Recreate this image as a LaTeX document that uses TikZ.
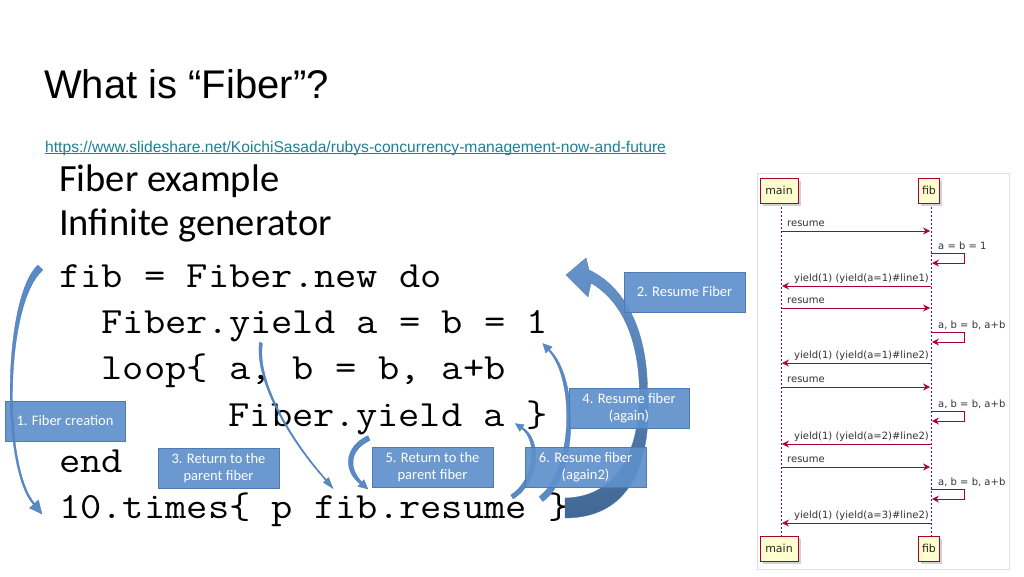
\documentclass[tikz,border=0pt]{standalone}
\usepackage{fontspec}
\setmainfont{Liberation Sans}
\newfontfamily\carlito{Carlito}
\newfontfamily\umlfont{DejaVu Sans}
\usetikzlibrary{arrows.meta}
\definecolor{boxblue}{RGB}{94,144,203}
\definecolor{boxedge}{RGB}{78,123,178}
\definecolor{arrblue}{RGB}{88,138,198}
\definecolor{arredge}{RGB}{72,120,180}
\definecolor{umlred}{RGB}{168,0,54}
\definecolor{umlyel}{RGB}{254,254,206}
\definecolor{urlc}{RGB}{28,128,150}
\newcommand{\codetext}[1]{\scalebox{1.116}[1]{#1}}
\begin{document}
\begin{tikzpicture}[x=1pt,y=-1pt,
  codeline/.style={anchor=base west,inner sep=0pt,font=\ttfamily\fontsize{37}{44}\selectfont\frenchspacing},
  subline/.style={anchor=base west,inner sep=0pt,font=\carlito\fontsize{38.5}{44}\selectfont},
  bluebox/.style={rectangle,fill=boxblue,draw=boxedge,line width=0.6pt,fill opacity=0.92,text opacity=1,
    text=white,font=\carlito\fontsize{14.5}{17.5}\selectfont,align=center,
    minimum width=121pt,minimum height=40pt,inner sep=0pt},
  arrowfill/.style={fill=arrblue,draw=arredge,line width=0.3pt},
  part/.style={rectangle,fill=umlyel,draw=umlred,line width=0.9pt,inner sep=0pt,
    font=\umlfont\fontsize{11}{12}\selectfont,text=black!85,minimum height=25pt},
  lifeline/.style={draw=umlred,line width=0.7pt,dash pattern=on 2pt off 2pt},
  msg/.style={draw=umlred,line width=0.8pt,-{Stealth[length=7pt,width=7pt,inset=2.5pt]}},
  msglabel/.style={anchor=base west,inner sep=0pt,font=\umlfont\fontsize{10}{12}\selectfont,text=black!80}
]
\useasboundingbox (0,0) rectangle (1024,576);
\fill[white] (0,0) rectangle (1024,576);

% ---- title, link, subtitle
\node[anchor=base west,inner sep=0pt,font=\fontsize{40}{48}\selectfont] (title) at (44,98) {What is “Fiber”?};
\node[anchor=base west,inner sep=0pt,text=urlc,font=\fontsize{15.62}{18}\selectfont] (url) at (45,152)
  {https://www.slideshare.net/KoichiSasada/rubys-concurrency-management-now-and-future};
\draw[urlc,line width=0.8pt] ([yshift=-1.8pt]url.base west) -- ([yshift=-1.8pt]url.base east);
\node[subline] (sub1) at (59,191) {Fiber example};
\node[subline] (sub2) at (59,235) {Infinite generator};

% ---- code
\node[codeline] (c1) at (59,287) {\codetext{fib = Fiber.new do}};
\node[codeline] (c2) at (101.4,333) {\codetext{Fiber.yield a = b = 1}};
\node[codeline] (c3) at (101.4,379) {\codetext{loop\{ a, b = b, a+b}};
\node[codeline] (c4) at (228.4,426) {\codetext{Fiber.yield a \}}};
\node[codeline] (c5) at (59,472) {\codetext{end}};
\node[codeline] (c6) at (59,518) {\codetext{10.times\{ p fib.resume \}}};

% ---- arrow 2 (big resume arrow)
\path[draw=arredge,line width=0.3pt,top color=arrblue!92!white,bottom color=arrblue!75!black]
  (565,498) .. controls (615,497) and (640,455) .. (639.5,390)
  .. controls (638,335) and (620,300) .. (591,283)
  -- (588,297) -- (566,275) -- (586,258) -- (589,270)
  .. controls (625,287) and (647,330) .. (647.5,390)
  .. controls (652,455) and (635,518) .. (565,518) -- cycle;
% ---- arrow 4
\path[arrowfill] (542.7,501.5) .. controls (578,477) and (580,379) .. (549.5,349.5)
  -- (552.2,346.9) -- (542.8,343.5) -- (545.8,353.1) -- (548.5,350.5)
  .. controls (576,381) and (572,473) .. (539.3,496.5) -- cycle;
% ---- arrow 6
\path[arrowfill] (513.2,498.9) .. controls (541,481) and (542,439) .. (522.4,427.5)
  -- (524.2,424.7) -- (515.4,423.6) -- (519.8,431.3) -- (521.6,428.5)
  .. controls (538,441) and (535,479) .. (510.8,495.1) -- cycle;
% ---- arrow 3 (thin)
\path[arrowfill] (259.5,342) .. controls (254,380) and (289.5,440.5) .. (325.6,480.4)
  -- (323.4,482.4) -- (333,488.5) -- (328.6,477.6) -- (326.4,479.6)
  .. controls (290.5,439.5) and (256.5,380) .. (262.5,343.5) -- cycle;
% ---- arrow 5
\path[arrowfill] (368,435.7) .. controls (345,446) and (342,470) .. (360.2,484)
  -- (358,486.4) -- (367.8,489) -- (364,479.6) -- (361.8,482)
  .. controls (348,467) and (350,450) .. (370,440.3) -- cycle;

% ---- blue labels
\node[bluebox,minimum width=120pt] (b1) at (65,421) {1. Fiber creation};
\node[bluebox] (b2) at (684.5,292) {2. Resume Fiber};
\node[bluebox] (b3) at (218.5,468) {3. Return to the\\parent fiber};
\node[bluebox,minimum width=120pt] (b4) at (629,408) {4. Resume fiber\\(again)};
\node[bluebox] (b5) at (432.5,467) {5. Return to the\\parent fiber};
\node[bluebox] (b6) at (585.5,467) {6. Resume fiber\\(again2)};

% ---- arrow 1 (fiber creation)
\path[arrowfill] (38,265) .. controls (3,297) and (0.5,468) .. (33.4,504.6)
  -- (29.5,508) -- (42,514) -- (38.5,500) -- (34.6,503.4)
  .. controls (2.8,466) and (5,302) .. (43,270) -- cycle;

% ---- sequence diagram
\draw[gray!25,fill=white] (757,173) rectangle (1009,569);
\draw[lifeline] (781,203) -- (781,536);
\draw[lifeline] (931,203) -- (931,536);
\fill[gray!35] (763,181) rectangle (801,206);
\fill[gray!35] (921,181) rectangle (942,206);
\fill[gray!35] (763,539) rectangle (801,564);
\fill[gray!35] (921,539) rectangle (942,564);
\node[part,minimum width=38pt] (mainTop) at (779,190.5) {main};
\node[part,minimum width=21pt] (fibTop) at (929,190.5) {fib};
\node[part,minimum width=38pt] (mainBot) at (779,548.5) {main};
\node[part,minimum width=21pt] (fibBot) at (929,548.5) {fib};

\foreach \y in {231,308,387,467}{
  \draw[msg] (781,\y) -- (930,\y);
  \node[msglabel] at (787,\y-4.5) {resume};
}
\foreach \y/\t in {286/{yield(1) (yield(a=1)\#line1)},363/{yield(1) (yield(a=1)\#line2)},
                   444/{yield(1) (yield(a=2)\#line2)},523/{yield(1) (yield(a=3)\#line2)}}{
  \draw[msg] (931,\y) -- (782,\y);
  \node[msglabel] at (794,\y-4.5) {\t};
}
\foreach \y/\t in {253/{a = b = 1},332/{a, b = b, a+b},411/{a, b = b, a+b},489/{a, b = b, a+b}}{
  \draw[msg] (931,\y) -- (964,\y) -- (964,\y+10) -- (932,\y+10);
  \node[msglabel] at (938,\y-3.5) {\t};
}
\end{tikzpicture}
\end{document}
